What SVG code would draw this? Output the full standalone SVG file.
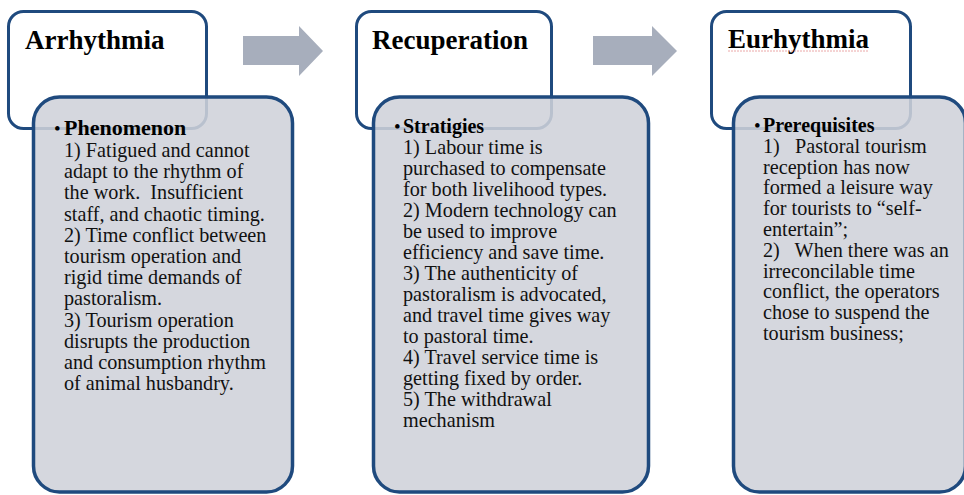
<svg xmlns="http://www.w3.org/2000/svg" width="964" height="495" viewBox="0 0 964 495">
<style>
.title{fill:#fff;stroke:#1f4a7e;stroke-width:3}
.body{fill:#cfd2da;fill-opacity:0.88;stroke:#1f4a7e;stroke-width:3.5}
.arrow{fill:#a7aebc}
.h{font-family:"Liberation Serif","Times New Roman",serif;font-weight:bold;font-size:27px;fill:#000}
.t{font-family:"Liberation Serif","Times New Roman",serif;font-size:20.2px;fill:#111;white-space:pre}
.b{font-family:"Liberation Serif","Times New Roman",serif;font-weight:bold;font-size:20px;fill:#000}
.dot{font-family:"Liberation Serif","Times New Roman",serif;font-size:19px;fill:#000}
</style>
<rect width="964" height="495" fill="#fff"/>
<g id="connectors">
<path class="arrow" d="M243,36 H299 V26 L323,51 L299,76 V65 H243 Z"/>
<path class="arrow" d="M593,36 H652 V26 L677,51 L652,76 V65 H593 Z"/>
</g>
<g id="arrhythmia">
<rect class="title" x="8.5" y="11.5" width="198" height="117" rx="15"/>
<text class="h" x="25" y="49">Arrhythmia</text>
<rect class="body" x="33.5" y="97" width="259" height="395" rx="26"/>
<text class="dot" x="54" y="135">•</text>
<text class="b" x="64" y="135" style="font-size:22px">Phenomenon</text>
<text class="t">
<tspan x="64" y="157">1) Fatigued and cannot</tspan>
<tspan x="64" y="178.2">adapt to the rhythm of</tspan>
<tspan x="64" y="199.4">the work.  Insufficient</tspan>
<tspan x="64" y="220.6">staff, and chaotic timing.</tspan>
<tspan x="64" y="241.8">2) Time conflict between</tspan>
<tspan x="64" y="263">tourism operation and</tspan>
<tspan x="64" y="284.2">rigid time demands of</tspan>
<tspan x="64" y="305.4">pastoralism.</tspan>
<tspan x="64" y="326.6">3) Tourism operation</tspan>
<tspan x="64" y="347.8">disrupts the production</tspan>
<tspan x="64" y="369">and consumption rhythm</tspan>
<tspan x="64" y="390.2">of animal husbandry.</tspan>
</text>
</g>
<g id="recuperation">
<rect class="title" x="356.5" y="11.5" width="195" height="117" rx="15"/>
<text class="h" x="372" y="49">Recuperation</text>
<rect class="body" x="373.5" y="97" width="275" height="395" rx="26"/>
<text class="dot" x="394" y="133">•</text>
<text class="b" x="403" y="133">Stratigies</text>
<text class="t">
<tspan x="403" y="154">1) Labour time is</tspan>
<tspan x="403" y="175">purchased to compensate</tspan>
<tspan x="403" y="196">for both livelihood types.</tspan>
<tspan x="403" y="217">2) Modern technology can</tspan>
<tspan x="403" y="238">be used to improve</tspan>
<tspan x="403" y="259">efficiency and save time.</tspan>
<tspan x="403" y="280">3) The authenticity of</tspan>
<tspan x="403" y="301">pastoralism is advocated,</tspan>
<tspan x="403" y="322">and travel time gives way</tspan>
<tspan x="403" y="343">to pastoral time.</tspan>
<tspan x="403" y="364">4) Travel service time is</tspan>
<tspan x="403" y="385">getting fixed by order.</tspan>
<tspan x="403" y="406">5) The withdrawal</tspan>
<tspan x="403" y="427">mechanism</tspan>
</text>
</g>
<g id="eurhythmia">
<rect class="title" x="711.5" y="11.5" width="199" height="117" rx="15"/>
<text class="h" x="728" y="48">Eurhythmia</text>
<line x1="728" y1="51" x2="868" y2="51" stroke="#e07070" stroke-width="1" stroke-dasharray="2,1" opacity="0.6"/>
<rect class="body" x="733.5" y="97" width="232" height="395" rx="26"/>
<text class="dot" x="754" y="132">•</text>
<text class="b" x="763" y="132">Prerequisites</text>
<text class="t">
<tspan x="763" y="152.8">1)   Pastoral tourism</tspan>
<tspan x="763" y="173.6">reception has now</tspan>
<tspan x="763" y="194.4">formed a leisure way</tspan>
<tspan x="763" y="215.2">for tourists to “self-</tspan>
<tspan x="763" y="236">entertain”;</tspan>
<tspan x="763" y="256.8">2)   When there was an</tspan>
<tspan x="763" y="277.6">irreconcilable time</tspan>
<tspan x="763" y="298.4">conflict, the operators</tspan>
<tspan x="763" y="319.2">chose to suspend the</tspan>
<tspan x="763" y="340">tourism business;</tspan>
</text>
</g>
</svg>
